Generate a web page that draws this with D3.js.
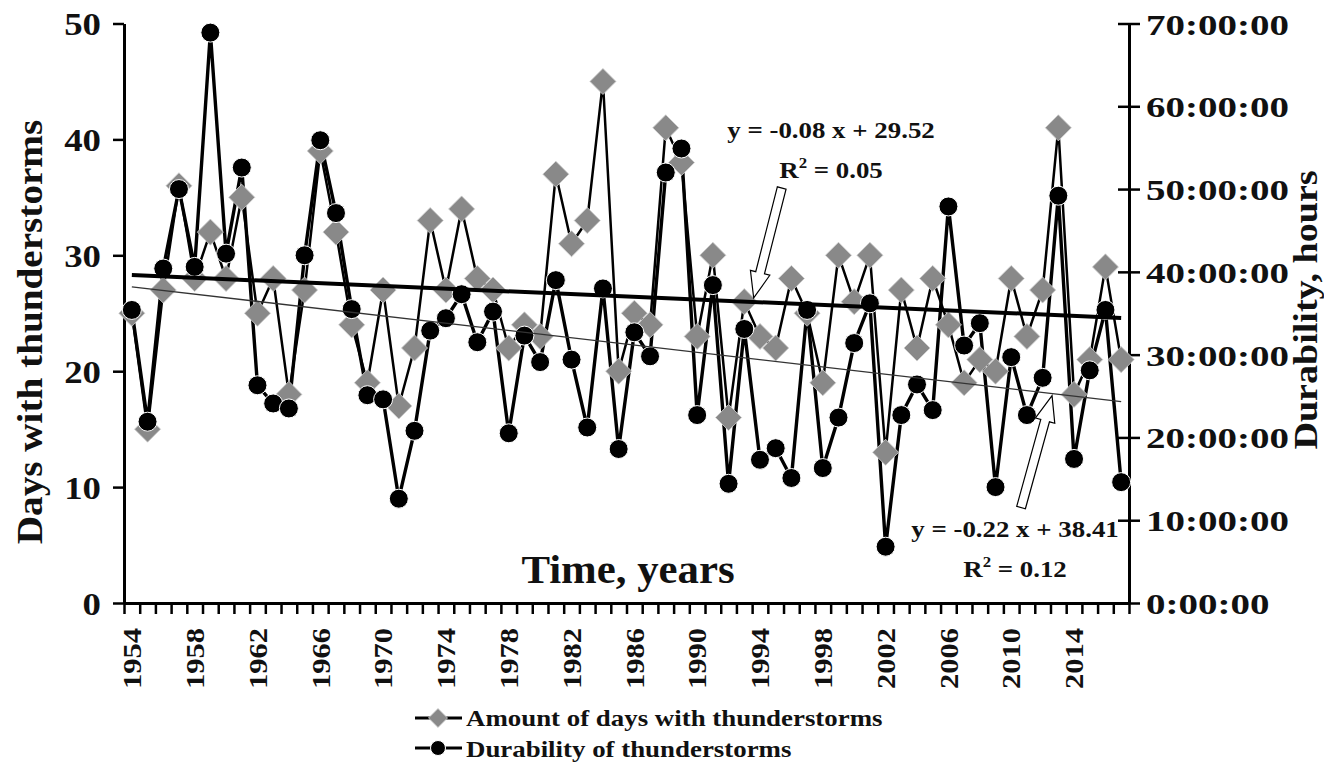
<!DOCTYPE html>
<html>
<head>
<meta charset="utf-8">
<script src="https://cdn.jsdelivr.net/npm/d3@7"></script>
<style>
  body { margin: 0; background: #fff; }
  svg text { font-family: 'Liberation Serif', 'Times New Roman', serif; font-weight: bold; fill: #111; }
</style>
</head>
<body>
<div id="chart-area"></div>
<script>
// thunderstorm data, 1954 - 2017
const years = d3.range(1954, 2018)
const labelYears = [1954, 1958, 1962, 1966, 1970, 1974, 1978, 1982, 1986, 1990, 1994, 1998, 2002, 2006, 2010, 2014]

// amount of days with thunderstorms
const days = [25, 15, 27, 36, 28, 32, 28, 35, 25, 28,
    18, 27, 39, 32, 24, 19, 27, 17, 22, 33,
    27, 34, 28, 27, 22, 24, 23, 37, 31, 33,
    45, 20, 25, 24, 41, 38, 23, 30, 16, 26,
    23, 22, 28, 25, 19, 30, 26, 30, 13, 27,
    22, 28, 24, 19, 21, 20, 28, 23, 27, 41,
    18, 21, 29, 21]

// durability of thunderstorms, hours
const hours = [35.4, 21.9, 40.4, 50.0, 40.6, 68.9, 42.2, 52.6, 26.3, 24.1,
    23.5, 42.0, 55.9, 47.1, 35.5, 25.1, 24.6, 12.6, 20.8, 32.9,
    34.4, 37.3, 31.5, 35.2, 20.5, 32.3, 29.1, 39.0, 29.4, 21.2,
    38.0, 18.6, 32.7, 29.8, 52.0, 54.9, 22.7, 38.4, 14.4, 33.1,
    17.3, 18.7, 15.1, 35.4, 16.3, 22.4, 31.4, 36.2, 6.8, 22.7,
    26.4, 23.3, 47.9, 31.1, 33.8, 14.0, 29.7, 22.7, 27.2, 49.2,
    17.4, 28.1, 35.4, 14.6]

const dayTicks = [0, 10, 20, 30, 40, 50]
const hourTicks = [0, 10, 20, 30, 40, 50, 60, 70]

// trend lines (start / end values)
const trendDays = [{ year: 1954, v: 28.3 }, { year: 2017, v: 24.6 }]
const trendHours = [{ year: 1954, v: 38.19 }, { year: 2017, v: 24.33 }]

const W = 1324, H = 763
const svg = d3.select("#chart-area").append("svg")
    .attr("width", W)
    .attr("height", H)

const plot = { left: 124, right: 1129, top: 23.5, bottom: 603 }

const x = d3.scaleLinear()
    .domain([1953.5, 2017.5])
    .range([plot.left, plot.right])
const yL = d3.scaleLinear().domain([0, 50]).range([plot.bottom, plot.top])
const yR = d3.scaleLinear().domain([0, 70]).range([plot.bottom, plot.top])

// the original lettering is a wide Times, so texts get a horizontal stretch
function stretched(sel, tx, ty, rot, size, sx, anchor) {
    return sel.attr("x", null).attr("y", null)
        .attr("transform", `translate(${tx},${ty}) rotate(${rot}) scale(${sx},1)`)
        .attr("font-size", size + "px")
        .attr("text-anchor", anchor)
}

function addText(tx, ty, rot, size, sx, anchor, str) {
    return stretched(svg.append("text"), tx, ty, rot, size, sx, anchor).text(str)
}

// ---- axes
const leftAxis = svg.append("g")
    .attr("transform", `translate(${plot.left},0)`)
    .call(d3.axisLeft(yL).tickValues(dayTicks).tickSize(11).tickSizeOuter(0))
leftAxis.select(".domain").attr("stroke-width", 3)
leftAxis.selectAll(".tick line").attr("stroke-width", 2.5)
leftAxis.selectAll(".tick text").each(function () {
    stretched(d3.select(this), -23, 0, 0, 32, 1.15, "end").attr("dy", "0.35em").attr("fill", "#111")
})

const rightAxis = svg.append("g")
    .attr("transform", `translate(${plot.right},0)`)
    .call(d3.axisRight(yR).tickValues(hourTicks).tickSize(11).tickSizeOuter(0)
        .tickFormat(d => `${d}:00:00`))
rightAxis.select(".domain").attr("stroke-width", 3)
rightAxis.selectAll(".tick line").attr("x1", -11).attr("stroke-width", 2.5)
rightAxis.selectAll(".tick text").each(function () {
    stretched(d3.select(this), 17, 0, 0, 30, 1.3, "start").attr("dy", "0.35em").attr("fill", "#111")
})

const bottomAxis = svg.append("g")
    .attr("transform", `translate(0,${plot.bottom})`)
    .call(d3.axisBottom(x).tickValues(years.map(d => d - 0.5).concat([2017.5]))
        .tickSize(11).tickSizeOuter(0).tickFormat(""))
bottomAxis.select(".domain").attr("stroke-width", 3)
bottomAxis.selectAll(".tick line").attr("stroke-width", 2.5)

const yearAxis = svg.append("g")
    .attr("transform", `translate(0,${plot.bottom})`)
    .call(d3.axisBottom(x).tickValues(labelYears).tickSize(0).tickFormat(d3.format("d")))
yearAxis.select(".domain").remove()
yearAxis.selectAll(".tick text").each(function () {
    stretched(d3.select(this), 0, 25, -90, 25, 1.22, "end").attr("dy", "0.35em").attr("fill", "#111")
})

// ---- axis titles
addText(30, 332, -90, 35, 1.12, "middle", "Days with thunderstorms").attr("dy", "0.35em")
addText(1305, 310, -90, 34, 1.12, "middle", "Durability, hours").attr("dy", "0.35em")
addText(628, 583, 0, 40, 1.07, "middle", "Time, years")

// ---- series
const lineDays = d3.line().x((d, i) => x(years[i])).y(d => yL(d))
const lineHours = d3.line().x((d, i) => x(years[i])).y(d => yR(d))

svg.append("path").datum(days)
    .attr("d", lineDays)
    .attr("fill", "none")
    .attr("stroke", "#000")
    .attr("stroke-width", 2.5)
    .attr("stroke-linejoin", "round")

svg.append("path").datum(hours)
    .attr("d", lineHours)
    .attr("fill", "none")
    .attr("stroke", "#000")
    .attr("stroke-width", 3.4)
    .attr("stroke-linejoin", "round")

const diamond = d3.symbol().type(d3.symbolSquare).size(340)
svg.selectAll(".day-mark").data(days).enter()
    .append("path")
    .attr("class", "day-mark")
    .attr("d", diamond)
    .attr("transform", (d, i) => `translate(${x(years[i])},${yL(d)}) rotate(45)`)
    .attr("fill", "#898989")
    .attr("stroke", "#cfcfcf")
    .attr("stroke-width", 0.8)

svg.selectAll(".hour-mark").data(hours).enter()
    .append("circle")
    .attr("class", "hour-mark")
    .attr("cx", (d, i) => x(years[i]))
    .attr("cy", d => yR(d))
    .attr("r", 9.5)
    .attr("fill", "#000")
    .attr("stroke", "#fff")
    .attr("stroke-width", 1)

// ---- trend lines
svg.append("path").datum(trendDays)
    .attr("d", d3.line().x(d => x(d.year)).y(d => yL(d.v)))
    .attr("stroke", "#000")
    .attr("stroke-width", 4)
svg.append("path").datum(trendHours)
    .attr("d", d3.line().x(d => x(d.year)).y(d => yR(d.v)))
    .attr("stroke", "#333")
    .attr("stroke-width", 1.3)

// ---- annotations
function blockArrow(tip, dx, dy) {
    const len = Math.hypot(dx, dy)
    const ux = -dx / len, uy = -dy / len   // from tail toward tip
    const nx = -uy, ny = ux
    const tail = [tip[0] + dx, tip[1] + dy]
    const headL = 26, shaft = 4.5, head = 10
    const neck = [tip[0] - ux * headL, tip[1] - uy * headL]
    const pts = [
        [tail[0] + nx * shaft, tail[1] + ny * shaft],
        [neck[0] + nx * shaft, neck[1] + ny * shaft],
        [neck[0] + nx * head, neck[1] + ny * head],
        tip,
        [neck[0] - nx * head, neck[1] - ny * head],
        [neck[0] - nx * shaft, neck[1] - ny * shaft],
        [tail[0] - nx * shaft, tail[1] - ny * shaft]
    ]
    svg.append("path")
        .attr("d", "M" + pts.map(p => p.join(",")).join("L") + "Z")
        .attr("fill", "#fff")
        .attr("stroke", "#000")
        .attr("stroke-width", 1.2)
}

const interp = (tr, yr) => tr[0].v + (tr[1].v - tr[0].v) * (yr - tr[0].year) / (tr[1].year - tr[0].year)
blockArrow([x(1993.6), yL(interp(trendDays, 1993.6)) - 4], 28, -110)
blockArrow([x(2012.6), yR(interp(trendHours, 2012.6)) + 2], -31, 112)

function equation(cx, by, eq, r2) {
    addText(cx, by, 0, 24, 1.12, "middle", eq)
    const t = addText(cx, by + 40, 0, 24, 1.12, "middle", "R")
    t.append("tspan").attr("font-size", "15px").attr("dy", "-10").text("2")
    t.append("tspan").attr("dy", "10").text(" = " + r2)
}
equation(831, 138, "y = -0.08 x + 29.52", "0.05")
equation(1015, 537, "y = -0.22 x + 38.41", "0.12")

// ---- legend
const legend = svg.append("g")
legend.append("line").attr("x1", 415).attr("x2", 462).attr("y1", 718).attr("y2", 718)
    .attr("stroke", "#000").attr("stroke-width", 3)
legend.append("path").attr("d", d3.symbol().type(d3.symbolSquare).size(180))
    .attr("transform", "translate(438,718) rotate(45)")
    .attr("fill", "#898989").attr("stroke", "#cfcfcf").attr("stroke-width", 0.8)
legend.append("line").attr("x1", 415).attr("x2", 462).attr("y1", 748).attr("y2", 748)
    .attr("stroke", "#000").attr("stroke-width", 3)
legend.append("circle").attr("cx", 438).attr("cy", 748).attr("r", 7.5)
    .attr("fill", "#000").attr("stroke", "#fff").attr("stroke-width", 1)
addText(466, 726, 0, 24, 1.12, "start", "Amount of days with thunderstorms")
addText(466, 757, 0, 24, 1.12, "start", "Durability of thunderstorms")
</script>
</body>
</html>
